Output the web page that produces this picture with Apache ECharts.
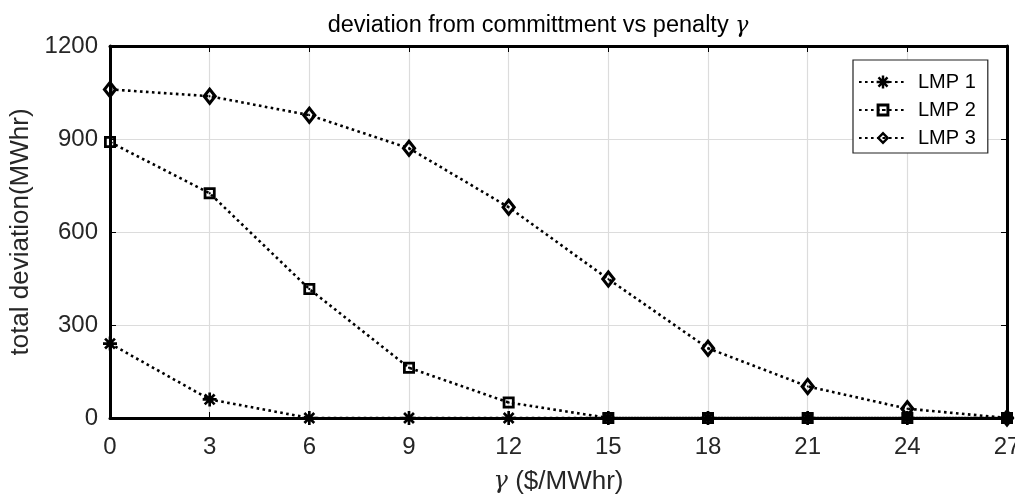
<!DOCTYPE html>
<html>
<head>
<meta charset="utf-8">
<script src="https://cdn.jsdelivr.net/npm/echarts@6/dist/echarts.min.js"></script>
<style>
  html, body { margin: 0; padding: 0; background: #fff; }
  #chart { width: 1015px; height: 496px; }
</style>
</head>
<body>
<div id="chart"></div>
<script>
// penalty gamma ($/MWhr)
const gammaValues = [0, 3, 6, 9, 12, 15, 18, 21, 24, 27];
const xTicks = [0, 3, 6, 9, 12, 15, 18, 21, 24, 27];
const yTicks = [0, 300, 600, 900, 1200];

// total deviation (MWhr) per LMP
const lmp1 = [240, 60, 0, 0, 0, 0, 0, 0, 0, 0];
const lmp2 = [890, 725, 416, 162, 50, 0, 0, 0, 0, 0];
const lmp3 = [1060, 1038, 977, 870, 680, 448, 225, 102, 30, 0];

const seriesNames = ['LMP 1', 'LMP 2', 'LMP 3'];

// marker outlines (outer contour, reversed inner contour for the hole, centre dot)
const asteriskPath = 'path://M-1.9,-10L1.9,-10L1.9,10L-1.9,10Z M-10,-1.9L10,-1.9L10,1.9L-10,1.9Z ' +
  'M-8.4,-5.7L-5.7,-8.4L8.4,5.7L5.7,8.4Z M5.7,-8.4L8.4,-5.7L-5.7,8.4L-8.4,5.7Z';
const squarePath = 'path://M-10,-10L10,-10L10,10L-10,10Z M-5.4,-5.4L-5.4,5.4L5.4,5.4L5.4,-5.4Z M-1.6,-1.6L1.6,-1.6L1.6,1.6L-1.6,1.6Z';
const diamondPath = 'path://M0,-10L10,0L0,10L-10,0Z M0,-4.8L-4.8,0L0,4.8L4.8,0Z M-1,-1L1,-1L1,1L-1,1Z';

function pairs(ys) { return gammaValues.map((x, i) => [x, ys[i]]); }

const font = 'Liberation Sans, Arial, sans-serif';
const serifItalic = 'DejaVu Serif, Liberation Serif, serif';
const lineStyle = { color: '#000', width: 2.6, type: [2.6, 3.4] };

function makeSeries(name, ys, symbol, size) {
  return {
    name: name,
    type: 'line',
    data: pairs(ys),
    symbol: symbol,
    symbolSize: size,
    symbolKeepAspect: false,
    showAllSymbol: true,
    clip: false,
    lineStyle: lineStyle,
    itemStyle: { color: '#000', borderWidth: 0 },
    emphasis: { disabled: true },
    animation: false
  };
}

const chart = echarts.init(document.getElementById('chart'), null, { renderer: 'canvas' });

const axisCommon = {
  type: 'value',
  axisLine: { show: true, onZero: false, lineStyle: { color: '#000', width: 3 } },
  axisTick: { show: true, inside: true, length: 6, lineStyle: { color: '#000', width: 1 } },
  splitLine: { show: false }
};

chart.setOption({
  backgroundColor: '#fff',
  animation: false,
  title: {
    text: 'deviation from committment vs penalty {g|γ}',
    left: 533,
    textAlign: 'center',
    top: 9,
    textStyle: {
      fontFamily: font, fontSize: 23.5, fontWeight: 'normal', color: '#000',
      rich: { g: { fontFamily: serifItalic, fontStyle: 'italic', fontSize: 22, color: '#000' } }
    }
  },
  grid: { left: 110, right: 8, top: 46, bottom: 78, containLabel: false, outerBoundsMode: 'none' },
  legend: {
    data: seriesNames,
    orient: 'vertical',
    left: 853,
    top: 60,
    padding: [12, 12, 5, 5],
    itemWidth: 48,
    itemHeight: 16,
    itemGap: 8,
    borderColor: '#222',
    borderWidth: 1.2,
    backgroundColor: '#fff',
    textStyle: { fontFamily: font, fontSize: 20, color: '#000', padding: [0, 0, 0, 6] }
  },
  xAxis: [
    Object.assign({}, axisCommon, {
      min: 0, max: 27, interval: 3,
      position: 'bottom',
      axisLabel: { margin: 17, fontFamily: font, fontSize: 24, color: '#262626',
        formatter: v => xTicks.includes(v) ? String(v) : '' },
      splitLine: { show: true, lineStyle: { color: '#dcdcdc', width: 1.2 } },
      name: '{g|γ} ($/MWhr)',
      nameLocation: 'middle',
      nameGap: 51,
      nameTextStyle: {
        fontFamily: font, fontSize: 26, color: '#262626',
        rich: { g: { fontFamily: serifItalic, fontStyle: 'italic', fontSize: 24, color: '#262626' } }
      }
    }),
    Object.assign({}, axisCommon, {
      min: 0, max: 27, interval: 3,
      position: 'top',
      axisLabel: { show: false }
    })
  ],
  yAxis: [
    Object.assign({}, axisCommon, {
      min: 0, max: 1200, interval: 300,
      position: 'left',
      axisLabel: { margin: 12, fontFamily: font, fontSize: 24, color: '#262626',
        formatter: v => yTicks.includes(v) ? String(v) : '' },
      splitLine: { show: true, lineStyle: { color: '#dcdcdc', width: 1.2 } },
      name: 'total deviation(MWhr)',
      nameLocation: 'middle',
      nameGap: 75,
      nameTextStyle: { fontFamily: font, fontSize: 26, color: '#262626' }
    }),
    Object.assign({}, axisCommon, {
      min: 0, max: 1200, interval: 300,
      position: 'right',
      axisLabel: { show: false }
    })
  ],
  series: [
    makeSeries(seriesNames[0], lmp1, asteriskPath, [14, 14]),
    makeSeries(seriesNames[1], lmp2, squarePath, [12, 12]),
    makeSeries(seriesNames[2], lmp3, diamondPath, [15, 19])
  ]
});
</script>
</body>
</html>
